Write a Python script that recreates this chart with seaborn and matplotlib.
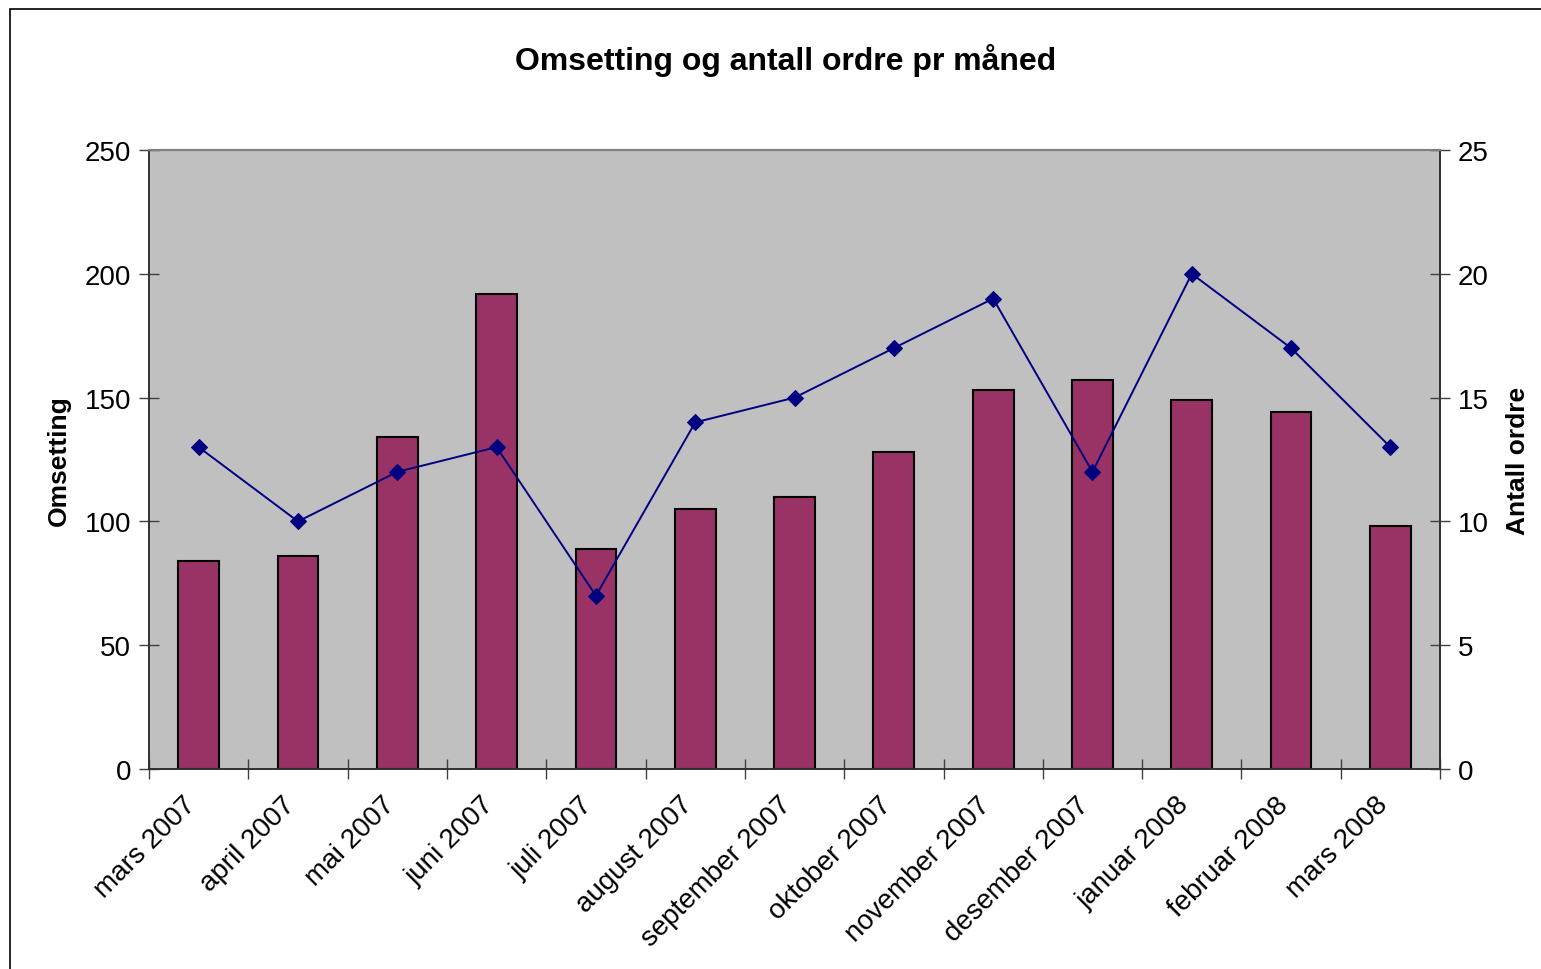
import numpy as np
import pandas as pd
import matplotlib
matplotlib.use("Agg")
import matplotlib.pyplot as plt
import matplotlib.transforms as mtransforms
import seaborn as sns
from matplotlib.patches import Rectangle
from matplotlib.ticker import FixedLocator

# Data
months = ['mars 2007', 'april 2007', 'mai 2007', 'juni 2007', 'juli 2007',
          'august 2007', 'september 2007', 'oktober 2007', 'november 2007',
          'desember 2007', 'januar 2008', 'februar 2008', 'mars 2008']
omsetting = [84, 86, 134, 192, 89, 105, 110, 128, 153, 157, 149, 144, 98]
antall_ordre = [13, 10, 12, 13, 7, 14, 15, 17, 19, 12, 20, 17, 13]

df = pd.DataFrame({'month': months, 'omsetting': omsetting,
                   'ordre': antall_ordre, 'pos': np.arange(len(months))})

sns.set_theme(style='white')
plt.rcParams['font.family'] = ['Liberation Sans', 'DejaVu Sans']
plt.rcParams['text.color'] = 'black'
plt.rcParams['axes.labelcolor'] = 'black'
plt.rcParams['xtick.color'] = 'black'
plt.rcParams['ytick.color'] = 'black'

fig = plt.figure(figsize=(15.41, 9.70), dpi=100)
ax = fig.add_axes([0.0967, 0.2062, 0.8378, 0.6381])
ax.set_facecolor('#C0C0C0')

sns.barplot(data=df, x='month', y='omsetting', color='#993366',
            saturation=1, width=0.41, edgecolor='black', linewidth=1.5, ax=ax)

ax2 = ax.twinx()
sns.lineplot(data=df, x='pos', y='ordre', color='#000080', linewidth=1.4,
             marker='D', markersize=8, markeredgecolor='#000080', ax=ax2)

n = len(months)
ax.set_xlim(-0.5, n - 0.5)
ax.set_ylim(0, 250)
ax2.set_ylim(0, 25)
ax.set_yticks(np.arange(0, 251, 50))
ax2.set_yticks(np.arange(0, 26, 5))

fs = 20
ax.xaxis.set_minor_locator(FixedLocator(np.arange(-0.5, n, 1.0)))
ax.tick_params(axis='x', which='major', length=0, pad=16, labelsize=fs)
ax.tick_params(axis='x', which='minor', direction='inout', length=14,
               width=1, color='#404040', bottom=True)
ax.tick_params(axis='y', direction='inout', length=14, width=1,
               color='#404040', labelsize=fs, left=True, pad=6)
ax2.tick_params(axis='y', direction='inout', length=14, width=1,
                color='#404040', labelsize=fs, right=True, pad=6)
shift = mtransforms.ScaledTranslation(-0.16, 0, fig.dpi_scale_trans)
for lab in ax.get_xticklabels():
    lab.set_rotation(45)
    lab.set_ha('right')
    lab.set_rotation_mode('anchor')
    lab.set_transform(lab.get_transform() + shift)

ax.set_xlabel('')
ax.set_ylabel('Omsetting', fontsize=19, fontweight='bold', labelpad=10)
ax2.set_xlabel('')
ax2.set_ylabel('Antall ordre', fontsize=19, fontweight='bold', labelpad=12)

for a in (ax, ax2):
    a.grid(False)
    for side in ('left', 'bottom', 'right'):
        a.spines[side].set_color('#303030')
        a.spines[side].set_linewidth(1.2)
    a.spines['top'].set_color('#808080')
    a.spines['top'].set_linewidth(1.5)

fig.suptitle('Omsetting og antall ordre pr måned', fontsize=23,
             fontweight='bold', x=0.51, y=0.955)

# Frame round the chart area
fig.patches.append(Rectangle((10 / 1541, -0.05), 1.1, 1 - 10 / 970 + 0.05,
                             transform=fig.transFigure, fill=False,
                             edgecolor='black', linewidth=1.2))

fig.savefig('out.png', dpi=100)
